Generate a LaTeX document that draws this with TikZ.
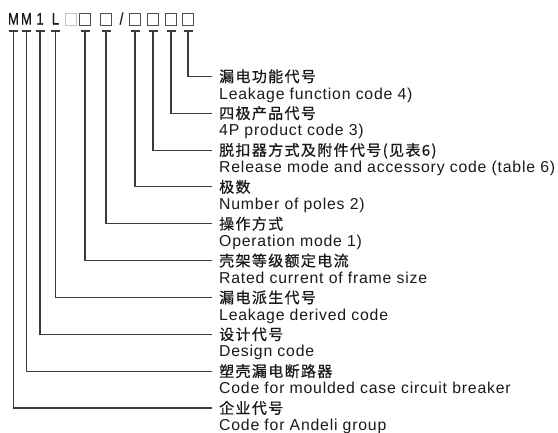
\documentclass[tikz,border=0pt]{standalone}
\usepackage{fontspec}
\setmainfont{Liberation Sans}
\newfontfamily\cjk[FakeBold=0.8,LetterSpace=9]{Noto Sans CJK SC}
\newfontfamily\lat[LetterSpace=5]{Liberation Sans}
\newfontfamily\narrowf[FakeStretch=0.8,FakeBold=0.8]{Liberation Sans}
\definecolor{linec}{HTML}{3C3C3C}
\definecolor{txt}{HTML}{1A1A1A}
\definecolor{lightbox}{HTML}{C4C4C4}
\definecolor{darkbox}{HTML}{505050}
\tikzset{
  lead/.style={draw=linec, line width=1.2pt},
  cn/.style={anchor=base west, inner xsep=7pt, inner ysep=0pt, font=\cjk\fontsize{15}{15}\selectfont, text=txt},
  en/.style={anchor=base west, inner sep=0pt, font=\lat\fontsize{15.8}{16}\selectfont, text=txt},
  codechar/.style={anchor=base, inner sep=0pt, font=\narrowf\fontsize{16.5}{17}\selectfont, text=txt},
  codebox/.style={draw=darkbox, line width=1pt, minimum width=10.5pt, minimum height=12pt, inner sep=0pt},
}
\begin{document}
\begin{tikzpicture}[x=1pt,y=-1pt]
\useasboundingbox (0,0) rectangle (558,432);
% top row
\node[codechar] (m1) at (13.5,24.5) {M};
\node[codechar] (m2) at (26.5,24.5) {M};
\node[codechar] (one) at (40,24.5) {1};
\node[codechar] (ell) at (55.5,24.5) {L};
\node[codebox, draw=lightbox] (b0) at (71,19) {};
\node[codebox] (b1) at (85,19) {};
\node[codebox] (b2) at (106,19) {};
\node[codechar] (sl) at (121.5,24.5) {/};
\node[codebox] (b3) at (135,19) {};
\node[codebox] (b4) at (153,19) {};
\node[codebox] (b5) at (171,19) {};
\node[codebox] (b6) at (188,19) {};
\coordinate (row) at (0,31);
% labels
\foreach \k/\src/\zh/\en in {
  0/b6/漏电功能代号/Leakage function code 4),
  1/b5/四极产品代号/4P product code 3),
  2/b4/脱扣器方式及附件代号(见表6)/Release mode and accessory code (table 6),
  3/b3/极数/Number of poles 2),
  4/b2/操作方式/Operation mode 1),
  5/b1/壳架等级额定电流/Rated current of frame size,
  6/ell/漏电派生代号/Leakage derived code,
  7/one/设计代号/Design code,
  8/m2/塑壳漏电断路器/Code for moulded case circuit breaker,
  9/m1/企业代号/Code for Andeli group}{
  \pgfmathsetmacro{\yy}{76+36.85*\k}
  \node[cn] (c\k) at (212,\yy+6) {\zh};
  \node[en] (e\k) at (219,\yy+23) {\en};
  \coordinate (t\k) at (\src |- row);
  \draw[lead] ([xshift=-4.5pt]t\k) -- ([xshift=4.5pt]t\k);
  \draw[lead] (t\k) |- (c\k.west);
}
\end{tikzpicture}
\end{document}
